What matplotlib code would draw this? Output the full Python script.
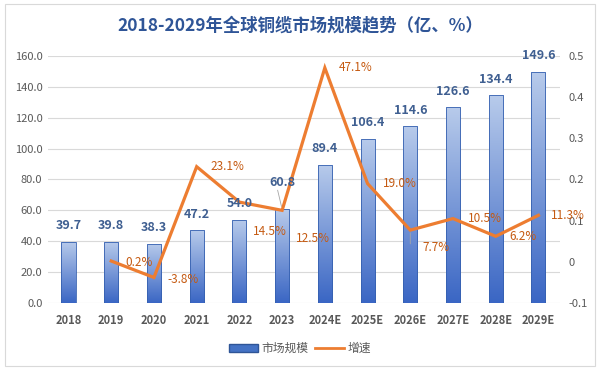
import numpy as np
import matplotlib
matplotlib.use('Agg')
import matplotlib.pyplot as plt
import matplotlib.patches as patches
from matplotlib.lines import Line2D

plt.rcParams['font.family'] = ['Noto Sans CJK SC', 'DejaVu Sans']

years = ['2018', '2019', '2020', '2021', '2022', '2023',
         '2024E', '2025E', '2026E', '2027E', '2028E', '2029E']
market = [39.7, 39.8, 38.3, 47.2, 54.0, 60.8, 89.4, 106.4, 114.6, 126.6, 134.4, 149.6]
growth = [None, 0.002, -0.038, 0.231, 0.145, 0.125, 0.471, 0.190, 0.077, 0.105, 0.062, 0.113]
growth_labels = ['', '0.2%', '-3.8%', '23.1%', '14.5%', '12.5%', '47.1%',
                 '19.0%', '7.7%', '10.5%', '6.2%', '11.3%']

# label offsets in pixels (dx, dy)
bar_dy = [16, 16, 16, 16, 16, 27, 16, 16, 16, 16, 16, 16]
growth_off = [(0, 0), (14, -1), (14, -2), (14, 0), (14, -29), (14, -28),
              (14, 0), (15, 0), (12, -17), (15, 0), (14, 0), (12, 0)]

BAR_TOP = '#B8CBEB'
BAR_BOT = '#3A66C4'
ORANGE = '#ED7D31'
LABEL_ORANGE = '#C55A11'
LABEL_BLUE = '#3F5F91'
GRAY = '#595959'

fig = plt.figure(figsize=(6, 3.7), dpi=100)
fig.patches.append(patches.Rectangle((0.008, 0.012), 0.984, 0.976, transform=fig.transFigure,
                                     fill=False, edgecolor='#D9D9D9', linewidth=0.8))
ax = fig.add_axes([0.08, 0.181, 0.853, 0.668])
ax2 = ax.twinx()

x = np.arange(len(years))
bars = ax.bar(x, market, width=0.33, color='none', edgecolor='#3560B0', linewidth=0.6, zorder=3)

grad = np.linspace(0, 1, 256).reshape(-1, 1)
cmap = matplotlib.colors.LinearSegmentedColormap.from_list('g', [BAR_BOT, BAR_TOP])
for b in bars:
    x0, y0 = b.get_x(), b.get_y()
    w, h = b.get_width(), b.get_height()
    im = ax.imshow(grad, cmap=cmap, aspect='auto', origin='lower',
                   extent=(x0, x0 + w, y0, y0 + h), zorder=2)
    im.set_clip_path(b)

ax.set_xlim(-0.48, 11.5)
ax.set_ylim(0, 160)
ax.set_yticks(np.arange(0, 161, 20))
ax.set_yticklabels([f'{v:.1f}' for v in np.arange(0, 161, 20)])
ax.grid(axis='y', color='#D9D9D9', linewidth=0.8, zorder=0)
ax.set_axisbelow(True)
ax.set_xticks(x)
ax.set_xticklabels(years, fontweight='bold')
for a in (ax, ax2):
    for s in a.spines.values():
        s.set_visible(False)
    a.tick_params(length=0, colors=GRAY, labelsize=8)
ax.tick_params(axis='x', pad=8)
ax.tick_params(axis='y', pad=4)

gx = [xi for xi, g in zip(x, growth) if g is not None]
gy = [g for g in growth if g is not None]
ax2.plot(gx, gy, color=ORANGE, linewidth=2.3, zorder=4, solid_joinstyle='miter')
ax2.set_ylim(-0.1, 0.5)
ax2.set_yticks(np.arange(-0.1, 0.51, 0.1))
ax2.set_yticklabels(['-0.1', '0', '0.1', '0.2', '0.3', '0.4', '0.5'])
ax2.tick_params(axis='y', pad=6)

# bar value labels drawn on ax2 so they sit above the line
for i, v in enumerate(market):
    ax2.annotate(f'{v:.1f}', (x[i], v), xycoords=ax.transData,
                 xytext=(0, bar_dy[i] * 0.72), textcoords='offset points',
                 ha='center', va='center', fontsize=9, fontweight='bold', color=LABEL_BLUE, zorder=6)
# leader for 60.8
ax2.annotate('', (x[5], market[5]), xycoords=ax.transData,
             xytext=(x[5] - 0.12, market[5] + 14), textcoords=ax.transData,
             arrowprops=dict(arrowstyle='-', color='#A6A6A6', lw=0.6))

for i, g in enumerate(growth):
    if g is None:
        continue
    dx, dy = growth_off[i]
    ax2.annotate(growth_labels[i], (x[i], g), xytext=(dx * 0.72, dy * 0.72),
                 textcoords='offset points', ha='left', va='center',
                 fontsize=8.5, color=LABEL_ORANGE, zorder=6)
# leader for 7.7%
ax2.annotate('', (x[8], growth[8]), xytext=(x[8], growth[8] - 0.04),
             arrowprops=dict(arrowstyle='-', color='#A6A6A6', lw=0.6))

fig.text(0.5, 0.93, '2018-2029年全球铜缆市场规模趋势（亿、%）', ha='center', va='center',
         fontsize=12.5, fontweight='bold', color='#2F5597')

handles = [patches.Patch(facecolor='#4472C4', edgecolor='#2F5597', label='市场规模'),
           Line2D([0], [0], color=ORANGE, lw=2, label='增速')]
fig.legend(handles=handles, loc='center', bbox_to_anchor=(0.5, 0.058), ncol=2, frameon=False,
           fontsize=8.5, labelcolor=GRAY, handlelength=2.4, handleheight=0.6,
           columnspacing=0.6, handletextpad=0.3)

plt.savefig('out.png', dpi=100)
plt.close()
